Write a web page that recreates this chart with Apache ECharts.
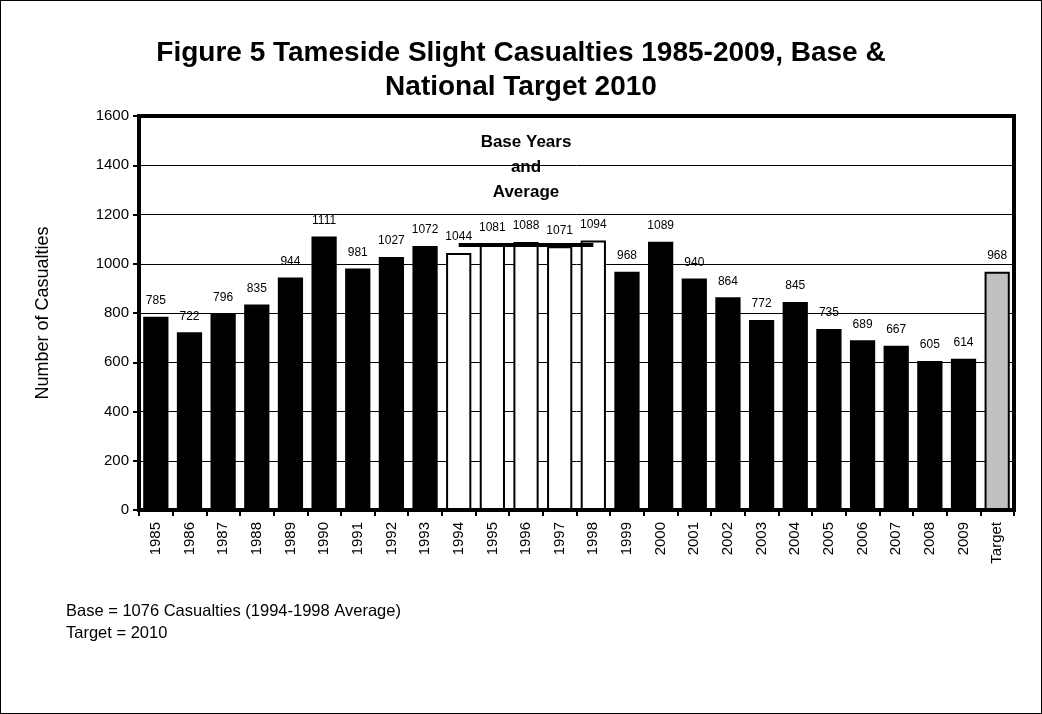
<!DOCTYPE html>
<html><head><meta charset="utf-8">
<script src="https://cdn.jsdelivr.net/npm/echarts@6/dist/echarts.min.js"></script>
<style>html,body{margin:0;padding:0;background:#fff}#c{width:1042px;height:714px;box-sizing:border-box;border:1px solid #000}</style>
</head><body><div id="c"></div>
<script>
const categories = ['1985','1986','1987','1988','1989','1990','1991','1992','1993','1994','1995','1996','1997','1998','1999','2000','2001','2002','2003','2004','2005','2006','2007','2008','2009','Target'];
const casualties = [785,722,796,835,944,1111,981,1027,1072,1044,1081,1088,1071,1094,968,1089,940,864,772,845,735,689,667,605,614,968];
const baseYears = ['1994','1995','1996','1997','1998'];
const baseAverage = 1076;
const yTicks = [0,200,400,600,800,1000,1200,1400,1600];

const chart = echarts.init(document.getElementById('c'), null, {renderer:'canvas'});
const barData = casualties.map((v,i)=>{
  const c = categories[i];
  let color = '#000';
  if (baseYears.includes(c)) color = '#fff';
  if (c === 'Target') color = '#c0c0c0';
  return {value:v, itemStyle:{color:color, borderColor:'#000', borderWidth: color==='#000'?0:2}};
});
const avgData = categories.map(c => baseYears.includes(c) ? baseAverage : null);
const font = "'Liberation Sans', Arial, sans-serif";
chart.setOption({
  animation:false,
  title:{text:'Figure 5 Tameside Slight Casualties 1985-2009, Base &\nNational Target 2010', left:'center', top:30,
    textStyle:{fontFamily:font, fontSize:28, fontWeight:'bold', color:'#000', lineHeight:34}},
  grid:{left:138, right:27, top:115, bottom:203, show:true, borderColor:'#000', borderWidth:4, backgroundColor:'#fff'},
  xAxis:{type:'category', data:categories,
    axisLine:{lineStyle:{color:'#000', width:3}},
    axisTick:{show:true, lineStyle:{color:'#000', width:2}, length:6},
    axisLabel:{rotate:90, fontFamily:font, fontSize:15, color:'#000', margin:12}},
  yAxis:{type:'value', min:yTicks[0], max:yTicks[yTicks.length-1], interval:200,
    name:'Number of Casualties', nameLocation:'middle', nameGap:87, nameRotate:90,
    nameTextStyle:{fontFamily:font, fontSize:18, color:'#000'},
    axisLine:{show:true, lineStyle:{color:'#000', width:4}},
    axisTick:{show:true, length:6, lineStyle:{color:'#000', width:2}},
    axisLabel:{fontFamily:font, fontSize:15, color:'#000', margin:10, formatter:v=>String(v)},
    splitLine:{lineStyle:{color:'#000', width:1}}},
  graphic:[
    {type:'text', x:525, y:129, z:10, style:{text:'Base Years\nand\nAverage', font:"bold 17px 'Liberation Sans', Arial, sans-serif", fill:'#000', textAlign:'center', lineHeight:25}},
    {type:'text', x:65, y:599, style:{text:'Base = 1076 Casualties (1994-1998 Average)\nTarget = 2010', font:"16.5px 'Liberation Sans', Arial, sans-serif", fill:'#000', lineHeight:22}}
  ],
  series:[
    {type:'bar', data:barData, barCategoryGap:'25%',
      label:{show:true, position:'top', distance:10, fontFamily:font, fontSize:12, color:'#000'}},
    {type:'line', data:avgData, symbol:'none', lineStyle:{color:'#000', width:4}, z:5}
  ]
});
</script></body></html>
